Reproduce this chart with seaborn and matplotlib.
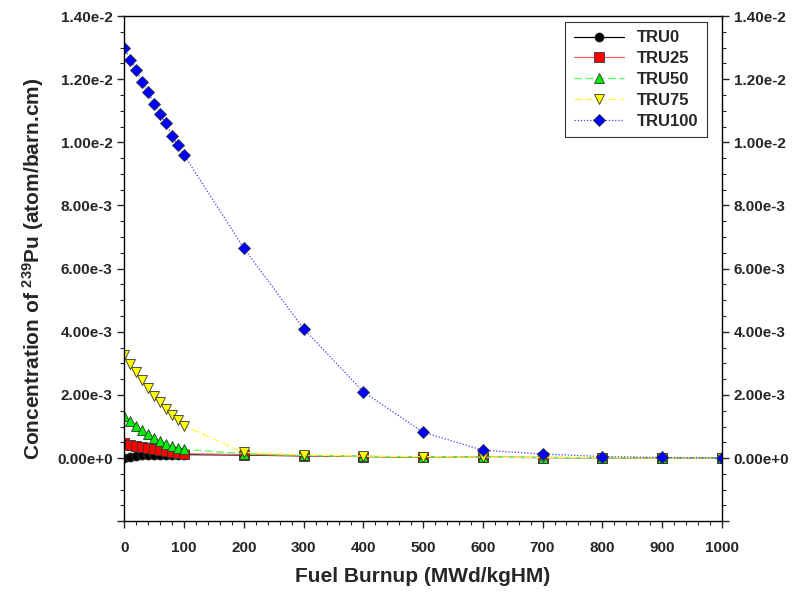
import numpy as np
import pandas as pd
import matplotlib
matplotlib.use("Agg")
import matplotlib.pyplot as plt
import seaborn as sns
from matplotlib.ticker import MultipleLocator, FuncFormatter

burnup = [0, 10, 20, 30, 40, 50, 60, 70, 80, 90, 100, 200, 300, 400, 500, 600, 700, 800, 900, 1000]

tru0 = [0.0, 4.0e-5, 7.0e-5, 9.0e-5, 1.0e-4, 1.05e-4, 1.08e-4, 1.1e-4, 1.1e-4, 1.1e-4, 1.1e-4,
        9.5e-5, 7.0e-5, 5.0e-5, 3.5e-5, 2.5e-5, 1.8e-5, 1.2e-5, 8e-6, 5e-6]
tru25 = [4.7e-4, 4.2e-4, 3.9e-4, 3.6e-4, 3.25e-4, 2.95e-4, 2.6e-4, 2.3e-4, 2.0e-4, 1.7e-4, 1.4e-4,
         1.1e-4, 7.5e-5, 5.0e-5, 3.5e-5, 2.5e-5, 1.8e-5, 1.2e-5, 8e-6, 5e-6]
tru50 = [1.32e-3, 1.18e-3, 1.02e-3, 8.8e-4, 7.6e-4, 6.5e-4, 5.5e-4, 4.6e-4, 3.9e-4, 3.3e-4, 2.8e-4,
         1.4e-4, 8.5e-5, 5.5e-5, 3.8e-5, 2.6e-5, 1.8e-5, 1.2e-5, 8e-6, 5e-6]
tru75 = [3.25e-3, 2.99e-3, 2.73e-3, 2.47e-3, 2.21e-3, 1.97e-3, 1.78e-3, 1.55e-3, 1.36e-3, 1.21e-3, 1.02e-3,
         1.8e-4, 1.0e-4, 6.5e-5, 4.5e-5, 3.0e-5, 2.0e-5, 1.4e-5, 9e-6, 6e-6]
tru100 = [1.30e-2, 1.26e-2, 1.23e-2, 1.19e-2, 1.16e-2, 1.12e-2, 1.09e-2, 1.06e-2, 1.02e-2, 9.9e-3, 9.6e-3,
          6.65e-3, 4.1e-3, 2.1e-3, 8.2e-4, 2.5e-4, 1.3e-4, 5e-5, 2e-5, 1e-5]

names = ["TRU0", "TRU25", "TRU50", "TRU75", "TRU100"]
series = [tru0, tru25, tru50, tru75, tru100]

colors = ["black", "#ff0000", "#00ee00", "#ffff00", "#0000ff"]
line_colors = ["black", "#ff6060", "#50ff50", "#ffff40", "#4040ff"]
markers = ["o", "s", "^", "v", "D"]
msizes = [6.5, 6.5, 7.5, 7.5, 6]
linestyles = ["-", "-", (0, (6, 3)), (0, (6, 3)), (0, (1, 1.5))]

sns.set_theme(style="ticks")
plt.rcParams["font.family"] = ["Liberation Sans", "DejaVu Sans"]
plt.rcParams["font.weight"] = "bold"
plt.rcParams["mathtext.fontset"] = "custom"
plt.rcParams["mathtext.bf"] = "Liberation Sans:bold"
plt.rcParams["mathtext.rm"] = "Liberation Sans:bold"

fig = plt.figure(figsize=(8.02, 5.93), dpi=100)
ax = fig.add_axes([0.155, 0.121, 0.745, 0.852])

for name, vals, c, lc, m, ms, ls in zip(names, series, colors, line_colors, markers, msizes, linestyles):
    df = pd.DataFrame({"burnup": burnup, "conc": vals})
    sns.lineplot(data=df, x="burnup", y="conc", ax=ax, color=lc, linestyle=ls, linewidth=0.9,
                 marker=m, markersize=ms, markerfacecolor=c, markeredgecolor="#333333",
                 markeredgewidth=0.6, label=name)

ax.set_xlim(0, 1000)
ax.set_ylim(-0.002, 0.014)
ax.xaxis.set_major_locator(MultipleLocator(100))
ax.xaxis.set_minor_locator(MultipleLocator(20))
ax.yaxis.set_major_locator(MultipleLocator(0.002))
ax.yaxis.set_minor_locator(MultipleLocator(0.0005))


def fmt(v, pos):
    if abs(v) < 1e-12:
        return "0.00e+0"
    if v < 0:
        return ""
    s = f"{v:.2e}"
    mant, exp = s.split("e")
    e = int(exp)
    sign = "-" if e < 0 else "+"
    return f"{mant}e{sign}{abs(e)}"


ax.yaxis.set_major_formatter(FuncFormatter(fmt))
ax.tick_params(axis="both", which="major", direction="out", length=5, width=1, labelsize=11)
ax.tick_params(axis="both", which="minor", direction="out", length=3, width=0.8)
ax.tick_params(axis="y", right=True, labelright=True, which="both")
ax.tick_params(axis="x", pad=9)
for lab in ax.get_xticklabels() + ax.get_yticklabels():
    lab.set_fontweight("bold")
for s in ax.spines.values():
    s.set_visible(True)
    s.set_linewidth(1.0)
    s.set_color("black")

ax.set_xlabel("Fuel Burnup (MWd/kgHM)", fontsize=15, fontweight="bold", labelpad=9)
ax.set_ylabel(r"Concentration of $\mathbf{^{239}}$Pu (atom/barn.cm)", fontsize=15,
              fontweight="bold", labelpad=8)

leg = ax.legend(loc="upper right", bbox_to_anchor=(0.975, 0.988), borderaxespad=0,
                frameon=True, fancybox=False, edgecolor="black", fontsize=12,
                handlelength=3.0, borderpad=0.5, labelspacing=0.35, handletextpad=0.8)
leg.get_frame().set_linewidth(0.8)
for t in leg.get_texts():
    t.set_fontweight("bold")

fig.savefig("out.png", dpi=100)
